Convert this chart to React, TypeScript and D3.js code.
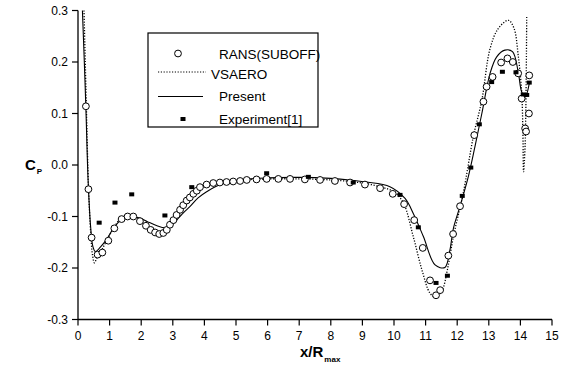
import * as d3 from "d3"

// pressure coefficient along the hull
const xTicks = d3.range(0, 16)
const yTicks = [-0.3, -0.2, -0.1, 0.0, 0.1, 0.2, 0.3]

const ransPoints: [number, number][] = [
  [0.25, 0.114], [0.33, -0.047], [0.43, -0.141], [0.62, -0.174], [0.77, -0.17],
  [0.96, -0.147], [1.15, -0.123], [1.38, -0.105], [1.57, -0.1], [1.75, -0.1],
  [1.96, -0.109], [2.15, -0.118], [2.3, -0.126], [2.44, -0.131], [2.57, -0.134],
  [2.7, -0.132], [2.81, -0.126], [2.91, -0.116], [3.02, -0.107], [3.12, -0.097],
  [3.23, -0.087], [3.33, -0.078], [3.44, -0.069], [3.54, -0.063], [3.65, -0.056],
  [3.76, -0.05], [3.86, -0.043], [4.07, -0.038], [4.28, -0.035], [4.49, -0.034],
  [4.7, -0.033], [4.91, -0.032], [5.13, -0.031], [5.34, -0.029], [5.65, -0.028],
  [5.97, -0.027], [6.34, -0.027], [6.71, -0.027], [7.18, -0.028], [7.66, -0.029],
  [8.13, -0.031], [8.61, -0.034], [9.08, -0.038], [9.56, -0.045], [9.96, -0.056],
  [10.32, -0.076], [10.64, -0.107], [10.91, -0.161], [11.14, -0.224], [11.33, -0.253],
  [11.46, -0.243], [11.72, -0.176], [11.87, -0.134], [12.09, -0.08], [12.54, 0.058],
  [12.83, 0.123], [12.93, 0.152], [13.12, 0.171], [13.39, 0.199], [13.59, 0.207],
  [13.76, 0.2], [13.93, 0.178], [14.04, 0.129], [14.28, 0.174], [14.27, 0.1],
  [14.15, 0.071], [14.18, 0.065],
]

const expPoints: [number, number][] = [
  [0.67, -0.112], [1.17, -0.073], [1.7, -0.057], [2.75, -0.098], [3.6, -0.043],
  [5.97, -0.016], [7.29, -0.023], [8.71, -0.034], [10.19, -0.058], [10.77, -0.121],
  [11.33, -0.229], [11.69, -0.215], [12.16, -0.06], [12.43, -0.005], [12.7, 0.079],
  [13.09, 0.161], [13.43, 0.181], [13.86, 0.18], [14.28, 0.16], [14.2, 0.136],
  [14.09, 0.137],
]

const presentLine: [number, number][] = [
  [0.14, 0.3], [0.2, 0.2], [0.25, 0.11], [0.32, -0.03], [0.4, -0.12], [0.47, -0.158],
  [0.55, -0.168], [0.7, -0.16], [0.9, -0.145], [1.1, -0.125], [1.3, -0.11], [1.5, -0.102],
  [1.7, -0.1], [1.96, -0.103], [2.2, -0.11], [2.5, -0.118], [2.75, -0.122], [2.95, -0.118],
  [3.15, -0.105], [3.35, -0.092], [3.54, -0.081], [3.8, -0.064], [4.07, -0.052],
  [4.5, -0.038], [5.13, -0.029], [6, -0.025], [7, -0.024], [8, -0.026], [8.6, -0.029],
  [9.1, -0.033], [9.87, -0.042], [10.35, -0.065], [10.61, -0.094], [10.93, -0.139],
  [11.3, -0.194], [11.61, -0.199], [11.77, -0.165], [11.88, -0.123], [12.09, -0.08],
  [12.35, -0.023], [12.56, 0.035], [12.78, 0.1], [13.04, 0.178], [13.25, 0.21],
  [13.51, 0.223], [13.75, 0.22], [13.93, 0.181], [14.04, 0.142], [14.15, 0.132],
  [14.28, 0.158],
]

const vsaeroLine: [number, number][] = [
  [0.19, 0.3], [0.23, 0.2], [0.27, 0.1], [0.33, -0.04], [0.4, -0.13], [0.46, -0.175],
  [0.52, -0.19], [0.6, -0.18], [0.75, -0.165], [0.95, -0.142], [1.15, -0.12],
  [1.35, -0.104], [1.55, -0.098], [1.75, -0.098], [1.95, -0.106], [2.15, -0.117],
  [2.35, -0.127], [2.55, -0.134], [2.7, -0.133], [2.85, -0.125], [3.0, -0.11],
  [3.2, -0.09], [3.4, -0.072], [3.6, -0.058], [3.8, -0.048], [4.1, -0.039],
  [4.5, -0.034], [5, -0.03], [6, -0.027], [7, -0.027], [8, -0.029], [8.6, -0.032],
  [9.1, -0.036], [9.6, -0.043], [10.0, -0.052], [10.3, -0.074], [10.61, -0.139],
  [10.88, -0.203], [11.14, -0.249], [11.3, -0.256], [11.51, -0.245], [11.69, -0.203],
  [11.88, -0.139], [12.19, -0.055], [12.51, 0.055], [12.78, 0.126], [13.04, 0.226],
  [13.3, 0.265], [13.62, 0.281], [13.8, 0.265], [13.93, 0.213], [14.04, 0.142],
  [14.08, 0.06], [14.1, -0.013], [14.15, 0.04], [14.2, 0.29],
]

const legendItems = ["RANS(SUBOFF)", "VSAERO", "Present", "Experiment[1]"]

const font = "'Liberation Sans', Arial, sans-serif"

export default function App() {
  const width = 565
  const height = 367
  const x = d3.scaleLinear().domain([0, 15]).range([78, 552])
  const y = d3.scaleLinear().domain([-0.3, 0.3]).range([319.5, 10.5])

  const line = d3
    .line<[number, number]>()
    .x((d) => x(d[0]))
    .y((d) => y(d[1]))
    .curve(d3.curveCatmullRom.alpha(0.5))

  return (
    <svg
      width={width}
      height={height}
      style={{ position: "absolute", left: 0, top: 0, background: "white" }}
      fontFamily={font}
    >
      {/* axes */}
      <line x1={x(0)} x2={x(0)} y1={y(0.3)} y2={y(-0.3)} stroke="black" strokeWidth={1.3} />
      <line x1={x(0)} x2={x(15)} y1={y(-0.3)} y2={y(-0.3)} stroke="black" strokeWidth={1.3} />
      {yTicks.map((t) => (
        <g key={"y" + t}>
          <line x1={x(0) - 6} x2={x(0)} y1={y(t)} y2={y(t)} stroke="black" strokeWidth={1.2} />
          <text x={x(0) - 10} y={y(t) + 4} textAnchor="end" fontSize={12}>
            {t.toFixed(1)}
          </text>
        </g>
      ))}
      {xTicks.map((t) => (
        <g key={"x" + t}>
          <line x1={x(t)} x2={x(t)} y1={y(-0.3)} y2={y(-0.3) + 6} stroke="black" strokeWidth={1.2} />
          <text x={x(t)} y={y(-0.3) + 20} textAnchor="middle" fontSize={12}>
            {t}
          </text>
        </g>
      ))}

      {/* axis titles */}
      <text x={25} y={170} fontSize={15} fontWeight="bold">
        C<tspan fontSize={8} dy={4} dx={1}>P</tspan>
      </text>
      <text x={300} y={357} fontSize={15} fontWeight="bold">
        x/R<tspan fontSize={8} dy={5} dx={1}>max</tspan>
      </text>

      {/* curves */}
      <path d={line(vsaeroLine) || ""} fill="none" stroke="black" strokeWidth={1.3} strokeDasharray="1.2,1.6" />
      <path d={line(presentLine) || ""} fill="none" stroke="black" strokeWidth={1.1} />

      {ransPoints.map((d, i) => (
        <circle key={"r" + i} cx={x(d[0])} cy={y(d[1])} r={3.4} fill="white" stroke="black" strokeWidth={1} />
      ))}
      {expPoints.map((d, i) => (
        <rect key={"e" + i} x={x(d[0]) - 2.5} y={y(d[1]) - 2} width={5} height={4} fill="black" />
      ))}

      {/* legend */}
      <rect x={148} y={33} width={170} height={94} fill="white" stroke="black" strokeWidth={1.2} />
      <circle cx={178} cy={53.5} r={3.4} fill="white" stroke="black" strokeWidth={1} />
      <line x1={158} x2={206} y1={72} y2={72} stroke="black" strokeWidth={1} strokeDasharray="1.2,1.6" />
      <line x1={158} x2={203} y1={96.5} y2={96.5} stroke="black" strokeWidth={1.2} />
      <rect x={180.5} y={117} width={5} height={4} fill="black" />
      <text x={219} y={58.5} fontSize={13.5}>{legendItems[0]}</text>
      <text x={211} y={78.5} fontSize={13.5}>{legendItems[1]}</text>
      <text x={219} y={101} fontSize={13.5}>{legendItems[2]}</text>
      <text x={219} y={124} fontSize={13.5}>{legendItems[3]}</text>
    </svg>
  )
}
